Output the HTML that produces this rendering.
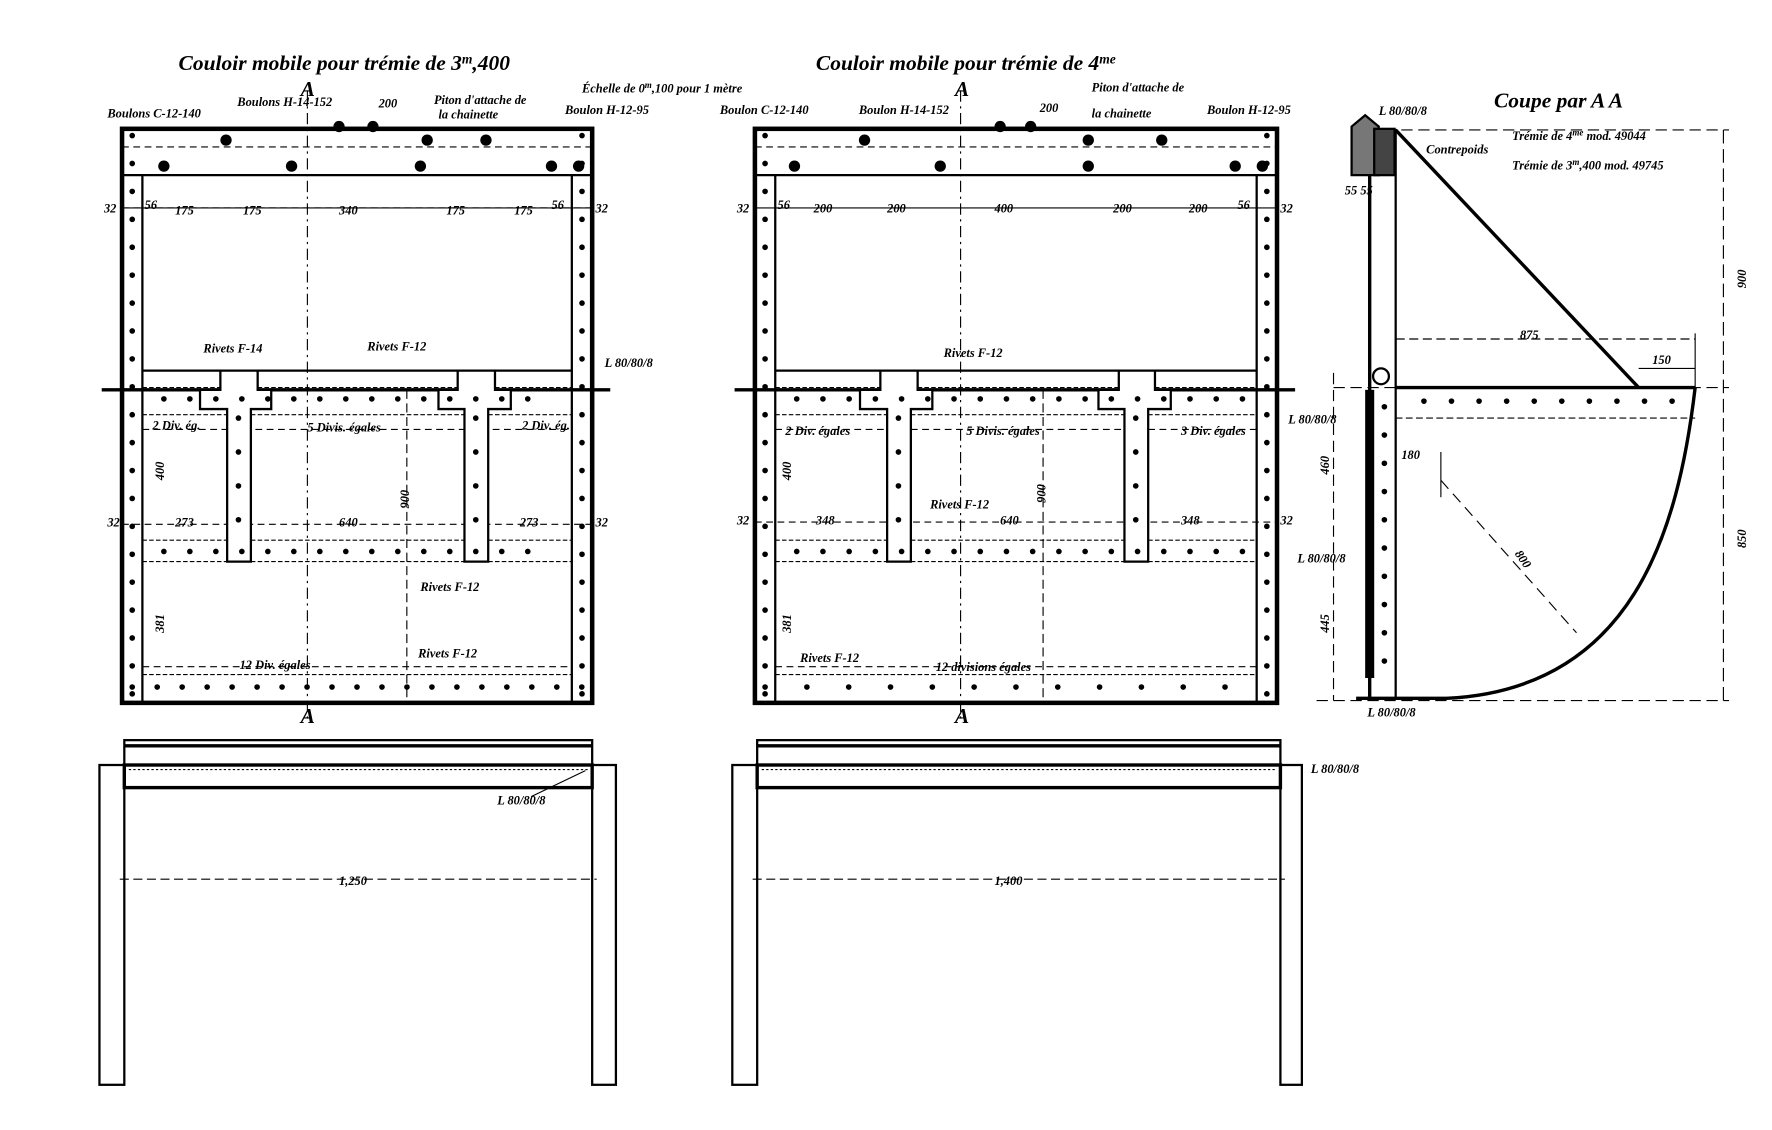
<!DOCTYPE html>
<html><head><meta charset="utf-8"><style>
html,body{margin:0;padding:0;background:#fff;}
svg{display:block}
text{font-family:"Liberation Serif",serif;font-style:italic;font-weight:bold;fill:#000}
</style></head><body>
<svg width="1772" height="1130" viewBox="0 0 1568 1000" preserveAspectRatio="none" xmlns="http://www.w3.org/2000/svg">
<rect width="1568" height="1000" fill="#fff"/>
<g stroke="#000" fill="none">
<!-- ============ LEFT PLATE ============ -->
<rect x="108" y="114" width="416" height="508" stroke-width="4"/>
<line x1="126" y1="155" x2="126" y2="622" stroke-width="2"/>
<line x1="506" y1="155" x2="506" y2="622" stroke-width="2"/>
<line x1="108" y1="155" x2="524" y2="155" stroke-width="2"/>
<line x1="108" y1="130" x2="524" y2="130" stroke-width="1" stroke-dasharray="6 4"/>
<line x1="108" y1="184" x2="524" y2="184" stroke-width="1" stroke-dasharray="6 4"/>
<line x1="90" y1="345" x2="540" y2="345" stroke-width="3"/>
<line x1="126" y1="328" x2="506" y2="328" stroke-width="2"/>
<line x1="126" y1="343" x2="506" y2="343" stroke-width="1" stroke-dasharray="4 2"/>
<line x1="126" y1="367" x2="506" y2="367" stroke-width="1" stroke-dasharray="4 2"/>
<line x1="126" y1="380" x2="506" y2="380" stroke-width="1" stroke-dasharray="6 4"/>
<line x1="108" y1="464" x2="524" y2="464" stroke-width="1" stroke-dasharray="6 4"/>
<line x1="126" y1="478" x2="506" y2="478" stroke-width="1" stroke-dasharray="4 2"/>
<line x1="126" y1="497" x2="506" y2="497" stroke-width="1" stroke-dasharray="4 2"/>
<line x1="126" y1="597" x2="506" y2="597" stroke-width="1" stroke-dasharray="4 2"/>
<line x1="126" y1="590" x2="506" y2="590" stroke-width="1" stroke-dasharray="6 4"/>
<line x1="360" y1="345" x2="360" y2="622" stroke-width="1" stroke-dasharray="8 4"/>
<line x1="272" y1="80" x2="272" y2="640" stroke-width="1" stroke-dasharray="10 4 2 4"/>
<path d="M195 328 H228 V345 H240 V362 H222 V497 H201 V362 H177 V345 H195 Z" stroke-width="2" fill="#fff"/>
<path d="M405 328 H438 V345 H452 V362 H432 V497 H411 V362 H388 V345 H405 Z" stroke-width="2" fill="#fff"/>
<g stroke-width="5" stroke-linecap="round">
<line x1="117" y1="120" x2="117" y2="615" stroke-dasharray="0 24.7"/>
<line x1="515" y1="120" x2="515" y2="615" stroke-dasharray="0 24.7"/>
<line x1="145" y1="353" x2="490" y2="353" stroke-dasharray="0 23"/>
<line x1="145" y1="488" x2="490" y2="488" stroke-dasharray="0 23"/>
<line x1="117" y1="608" x2="515" y2="608" stroke-dasharray="0 22.1"/>
<line x1="211" y1="370" x2="211" y2="490" stroke-dasharray="0 30"/>
<line x1="421" y1="370" x2="421" y2="490" stroke-dasharray="0 30"/>
</g>
<g fill="#000" stroke="none">
<circle cx="145" cy="147" r="5"/><circle cx="200" cy="124" r="5"/><circle cx="258" cy="147" r="5"/><circle cx="300" cy="112" r="5"/><circle cx="330" cy="112" r="5"/><circle cx="378" cy="124" r="5"/><circle cx="372" cy="147" r="5"/><circle cx="430" cy="124" r="5"/><circle cx="488" cy="147" r="5"/><circle cx="512" cy="147" r="5"/>
</g>
<line x1="108" y1="184" x2="524" y2="184" stroke-width="1"/>
<rect x="110" y="655" width="414" height="22" stroke-width="2"/>
<line x1="110" y1="660" x2="524" y2="660" stroke-width="3"/>
<rect x="88" y="677" width="22" height="283" stroke-width="2"/>
<rect x="524" y="677" width="21" height="283" stroke-width="2"/>
<rect x="110" y="677" width="414" height="20" stroke-width="3"/>
<line x1="114" y1="681" x2="520" y2="681" stroke-width="1" stroke-dasharray="2 2"/>
<line x1="106" y1="778" x2="528" y2="778" stroke-width="1" stroke-dasharray="8 4"/>
<line x1="470" y1="705" x2="518" y2="682" stroke-width="1"/>

<!-- ============ MIDDLE PLATE ============ -->
<rect x="668" y="114" width="462" height="508" stroke-width="4"/>
<line x1="686" y1="155" x2="686" y2="622" stroke-width="2"/>
<line x1="1112" y1="155" x2="1112" y2="622" stroke-width="2"/>
<line x1="668" y1="155" x2="1130" y2="155" stroke-width="2"/>
<line x1="668" y1="130" x2="1130" y2="130" stroke-width="1" stroke-dasharray="6 4"/>
<line x1="668" y1="184" x2="1130" y2="184" stroke-width="1"/>
<line x1="650" y1="345" x2="1146" y2="345" stroke-width="3"/>
<line x1="686" y1="328" x2="1112" y2="328" stroke-width="2"/>
<line x1="686" y1="343" x2="1112" y2="343" stroke-width="1" stroke-dasharray="4 2"/>
<line x1="686" y1="367" x2="1112" y2="367" stroke-width="1" stroke-dasharray="4 2"/>
<line x1="686" y1="380" x2="1112" y2="380" stroke-width="1" stroke-dasharray="6 4"/>
<line x1="668" y1="462" x2="1130" y2="462" stroke-width="1" stroke-dasharray="6 4"/>
<line x1="686" y1="478" x2="1112" y2="478" stroke-width="1" stroke-dasharray="4 2"/>
<line x1="686" y1="497" x2="1112" y2="497" stroke-width="1" stroke-dasharray="4 2"/>
<line x1="686" y1="597" x2="1112" y2="597" stroke-width="1" stroke-dasharray="4 2"/>
<line x1="686" y1="590" x2="1112" y2="590" stroke-width="1" stroke-dasharray="6 4"/>
<line x1="923" y1="345" x2="923" y2="622" stroke-width="1" stroke-dasharray="8 4"/>
<line x1="850" y1="80" x2="850" y2="640" stroke-width="1" stroke-dasharray="10 4 2 4"/>
<path d="M779 328 H812 V345 H825 V362 H806 V497 H785 V362 H761 V345 H779 Z" stroke-width="2" fill="#fff"/>
<path d="M990 328 H1022 V345 H1036 V362 H1016 V497 H995 V362 H972 V345 H990 Z" stroke-width="2" fill="#fff"/>
<g stroke-width="5" stroke-linecap="round">
<line x1="677" y1="120" x2="677" y2="615" stroke-dasharray="0 24.7"/>
<line x1="1121" y1="120" x2="1121" y2="615" stroke-dasharray="0 24.7"/>
<line x1="705" y1="353" x2="1100" y2="353" stroke-dasharray="0 23.2"/>
<line x1="705" y1="488" x2="1100" y2="488" stroke-dasharray="0 23.2"/>
<line x1="677" y1="608" x2="1121" y2="608" stroke-dasharray="0 37"/>
<line x1="795" y1="370" x2="795" y2="490" stroke-dasharray="0 30"/>
<line x1="1005" y1="370" x2="1005" y2="490" stroke-dasharray="0 30"/>
</g>
<g fill="#000" stroke="none">
<circle cx="703" cy="147" r="5"/><circle cx="765" cy="124" r="5"/><circle cx="832" cy="147" r="5"/><circle cx="885" cy="112" r="5"/><circle cx="912" cy="112" r="5"/><circle cx="963" cy="124" r="5"/><circle cx="963" cy="147" r="5"/><circle cx="1028" cy="124" r="5"/><circle cx="1093" cy="147" r="5"/><circle cx="1117" cy="147" r="5"/>
</g>
<rect x="670" y="655" width="463" height="22" stroke-width="2"/>
<line x1="670" y1="660" x2="1133" y2="660" stroke-width="3"/>
<rect x="648" y="677" width="22" height="283" stroke-width="2"/>
<rect x="1133" y="677" width="19" height="283" stroke-width="2"/>
<rect x="670" y="677" width="463" height="20" stroke-width="3"/>
<line x1="674" y1="681" x2="1129" y2="681" stroke-width="1" stroke-dasharray="2 2"/>
<line x1="666" y1="778" x2="1137" y2="778" stroke-width="1" stroke-dasharray="8 4"/>

<!-- ============ SECTION A A ============ -->
<path d="M1196 112 L1208 102 L1220 112 V155 H1196 Z" stroke-width="2" fill="#777"/>
<rect x="1216" y="114" width="18" height="41" fill="#444" stroke-width="2"/>
<line x1="1212" y1="155" x2="1212" y2="618" stroke-width="3"/>
<line x1="1235" y1="114" x2="1235" y2="618" stroke-width="2"/>
<rect x="1208" y="345" width="8" height="255" fill="#000" stroke="none"/>
<circle cx="1222" cy="333" r="7" stroke-width="2"/>
<line x1="1235" y1="115" x2="1450" y2="343" stroke-width="3"/>
<line x1="1235" y1="343" x2="1500" y2="343" stroke-width="3"/>
<line x1="1235" y1="370" x2="1500" y2="370" stroke-width="1" stroke-dasharray="6 3"/>
<path d="M1500 343 C1485 470 1445 610 1280 618 L1200 618" stroke-width="3"/>
<g stroke-width="5" stroke-linecap="round">
<line x1="1225" y1="360" x2="1225" y2="610" stroke-dasharray="0 25"/>
<line x1="1260" y1="355" x2="1480" y2="355" stroke-dasharray="0 24.4"/>
</g>
<line x1="1235" y1="300" x2="1500" y2="300" stroke-width="1" stroke-dasharray="8 4"/>
<line x1="1450" y1="326" x2="1500" y2="326" stroke-width="1"/>
<line x1="1500" y1="295" x2="1500" y2="343" stroke-width="1"/>
<line x1="1275" y1="400" x2="1275" y2="440" stroke-width="1"/>
<line x1="1275" y1="425" x2="1395" y2="560" stroke-width="1" stroke-dasharray="10 6"/>
<line x1="1525" y1="115" x2="1525" y2="620" stroke-width="1" stroke-dasharray="12 5"/>
<line x1="1240" y1="115" x2="1530" y2="115" stroke-width="1" stroke-dasharray="10 5"/>
<line x1="1180" y1="343" x2="1530" y2="343" stroke-width="1" stroke-dasharray="10 5"/>
<line x1="1165" y1="620" x2="1530" y2="620" stroke-width="1" stroke-dasharray="10 5"/>
<line x1="1180" y1="330" x2="1180" y2="620" stroke-width="1" stroke-dasharray="10 5"/>
</g>
<g font-size="19">
<text x="158" y="62">Couloir  mobile  pour  trémie de 3<tspan font-size="12" dy="-6">m</tspan><tspan dy="6">,400</tspan></text>
<text x="722" y="62">Couloir  mobile  pour  trémie  de 4<tspan font-size="12" dy="-6">me</tspan></text>
<text x="1322" y="95">Coupe  par  A  A</text>
<text x="266" y="85">A</text><text x="266" y="640">A</text>
<text x="845" y="85">A</text><text x="845" y="640">A</text>
</g>
<g font-size="11">
<text x="515" y="82">Échelle de 0<tspan font-size="8" dy="-4">m</tspan><tspan dy="4">,100 pour 1 mètre</tspan></text>
<text x="95" y="104">Boulons C-12-140</text><text x="210" y="94">Boulons H-14-152</text>
<text x="335" y="95">200</text><text x="384" y="92">Piton d'attache de</text><text x="388" y="105">la chainette</text>
<text x="500" y="101">Boulon H-12-95</text>
<text x="637" y="101">Boulon C-12-140</text><text x="760" y="101">Boulon H-14-152</text>
<text x="920" y="99">200</text><text x="966" y="81">Piton d'attache de</text><text x="966" y="104">la chainette</text>
<text x="1068" y="101">Boulon H-12-95</text>
<text x="92" y="188">32</text><text x="128" y="185">56</text><text x="155" y="190">175</text><text x="215" y="190">175</text><text x="300" y="190">340</text><text x="395" y="190">175</text><text x="455" y="190">175</text><text x="488" y="185">56</text><text x="527" y="188">32</text>
<text x="652" y="188">32</text><text x="688" y="185">56</text><text x="720" y="188">200</text><text x="785" y="188">200</text><text x="880" y="188">400</text><text x="985" y="188">200</text><text x="1052" y="188">200</text><text x="1095" y="185">56</text><text x="1133" y="188">32</text>
<text x="180" y="312">Rivets F-14</text><text x="325" y="310">Rivets F-12</text><text x="835" y="316">Rivets F-12</text>
<text x="135" y="380">2 Div. ég.</text><text x="272" y="382">5 Divis. égales</text><text x="462" y="380">2 Div. ég.</text>
<text x="695" y="385">2 Div. égales</text><text x="855" y="385">5 Divis. égales</text><text x="1045" y="385">3 Div. égales</text>
<text x="95" y="466">32</text><text x="155" y="466">273</text><text x="300" y="466">640</text><text x="460" y="466">273</text><text x="527" y="466">32</text>
<text x="652" y="464">32</text><text x="722" y="464">348</text><text x="885" y="464">640</text><text x="1045" y="464">348</text><text x="1133" y="464">32</text>
<text x="823" y="450">Rivets F-12</text>
<text x="372" y="523">Rivets F-12</text><text x="370" y="582">Rivets F-12</text><text x="708" y="586">Rivets F-12</text>
<text x="212" y="592">12 Div. égales</text><text x="828" y="594">12 divisions égales</text>
<text x="300" y="783">1,250</text><text x="880" y="783">1,400</text>
<text x="1262" y="136">Contrepoids</text>
<text x="1338" y="124">Trémie de 4<tspan font-size="8" dy="-4">me</tspan><tspan dy="4"> mod. 49044</tspan></text>
<text x="1338" y="150">Trémie de 3<tspan font-size="8" dy="-4">m</tspan><tspan dy="4">,400 mod. 49745</tspan></text>
<text x="1345" y="300">875</text><text x="1462" y="322">150</text><text x="1240" y="406">180</text>
<text x="1220" y="102">L 80/80/8</text><text x="535" y="325">L 80/80/8</text><text x="440" y="712">L 80/80/8</text><text x="1160" y="684">L 80/80/8</text><text x="1140" y="375">L 80/80/8</text><text x="1148" y="498">L 80/80/8</text><text x="1210" y="634">L 80/80/8</text>
<text x="1190" y="172">55 55</text>
</g>
<g font-size="11">
<text transform="translate(1545,255) rotate(-90)">900</text>
<text transform="translate(1545,485) rotate(-90)">850</text>
<text transform="translate(1176,420) rotate(-90)">460</text>
<text transform="translate(1176,560) rotate(-90)">445</text>
<text transform="translate(1340,490) rotate(55)">800</text>
<text transform="translate(362,450) rotate(-90)">900</text>
<text transform="translate(925,445) rotate(-90)">900</text>
<text transform="translate(145,425) rotate(-90)">400</text>
<text transform="translate(700,425) rotate(-90)">400</text>
<text transform="translate(145,560) rotate(-90)">381</text>
<text transform="translate(700,560) rotate(-90)">381</text>
</g>
</svg>
</body></html>
